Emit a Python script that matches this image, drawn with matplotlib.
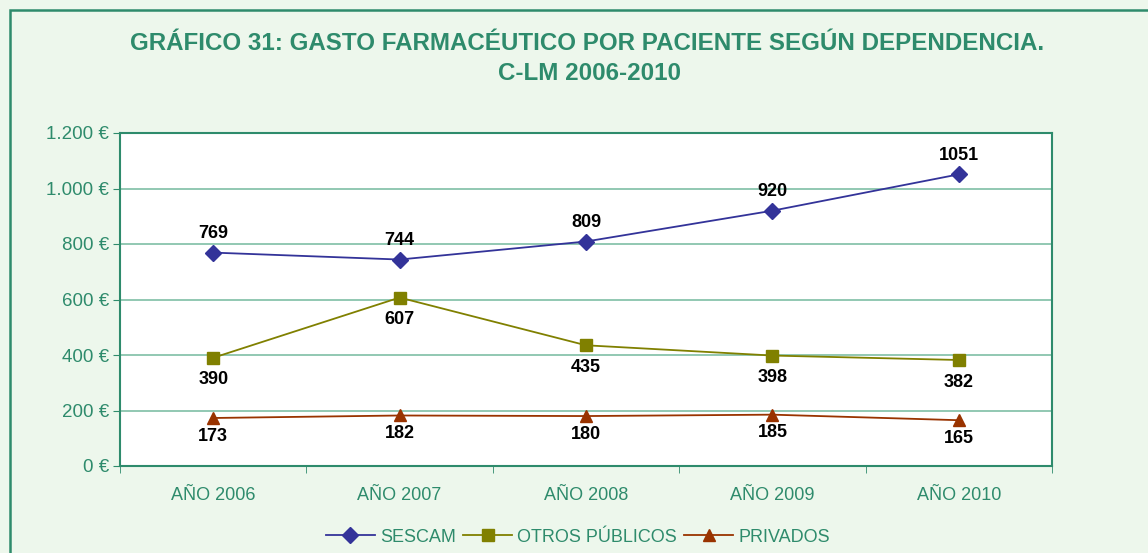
import matplotlib
matplotlib.use("Agg")
import matplotlib.pyplot as plt
from matplotlib.patches import Rectangle
from matplotlib.ticker import FuncFormatter, FixedLocator

categories = ["AÑO 2006", "AÑO 2007", "AÑO 2008", "AÑO 2009", "AÑO 2010"]
sescam = [769, 744, 809, 920, 1051]
otros_publicos = [390, 607, 435, 398, 382]
privados = [173, 182, 180, 185, 165]
series_names = ["SESCAM", "OTROS PÚBLICOS", "PRIVADOS"]
yticks = [0, 200, 400, 600, 800, 1000, 1200]

plt.rcParams['font.family'] = ['Liberation Sans', 'DejaVu Sans']

GREEN = "#2E8B6C"
GRID = "#7FBFA6"
BG = "#EDF7EC"

fig = plt.figure(figsize=(11.48, 5.53), dpi=100)
fig.patch.set_facecolor(BG)

# outer border
fig.patches.append(Rectangle((9.5/1148, -0.1), 1.2, (553-10)/553 + 0.1,
                             transform=fig.transFigure, fill=False,
                             edgecolor=GREEN, linewidth=1.8, zorder=0))

ax = fig.add_axes([120/1148, (553-466)/553, (1052-120)/1148, (466-133)/553])
ax.set_facecolor("white")
x = list(range(len(categories)))

ax.plot(x, sescam, color="#333399", marker="D", markersize=8, linewidth=1.3, label=series_names[0], zorder=3)
ax.plot(x, otros_publicos, color="#808000", marker="s", markersize=8, linewidth=1.3, label=series_names[1], zorder=3)
ax.plot(x, privados, color="#993300", marker="^", markersize=9, linewidth=1.3, label=series_names[2], zorder=3)

ax.set_xlim(-0.5, len(categories) - 0.5)
ax.set_ylim(0, 1200)
ax.yaxis.set_major_locator(FixedLocator(yticks))
ax.yaxis.set_major_formatter(FuncFormatter(lambda v, p: f"{int(v):,}".replace(",", ".") + " €"))
ax.set_xticks(x)
ax.set_xticklabels(categories)
ax.set_xticks([i - 0.5 for i in range(len(categories) + 1)], minor=True)
ax.tick_params(axis='x', which='major', length=0, pad=15, labelsize=13, labelcolor=GREEN)
ax.tick_params(axis='x', which='minor', length=5, color=GREEN, direction='out')
ax.tick_params(axis='y', which='major', length=5, color=GREEN, labelsize=13.5, labelcolor=GREEN, pad=3)

ax.grid(axis='y', color=GRID, linewidth=1.2, zorder=0)
ax.set_axisbelow(True)
for s in ax.spines.values():
    s.set_color(GREEN)
    s.set_linewidth(1.5)

lab_kw = dict(fontsize=13, fontweight='bold', color='black', ha='center', va='center')
for i in x:
    ax.annotate(str(sescam[i]), (i, sescam[i]), xytext=(0, 13.5), textcoords='offset points', **lab_kw)
    ax.annotate(str(otros_publicos[i]), (i, otros_publicos[i]), xytext=(0, -16), textcoords='offset points', **lab_kw)
    ax.annotate(str(privados[i]), (i, privados[i]), xytext=(0, -13), textcoords='offset points', **lab_kw)

fig.text(587/1148, 1 - 44/553, "GRÁFICO 31: GASTO FARMACÉUTICO POR PACIENTE SEGÚN DEPENDENCIA.",
         ha='center', va='center', fontsize=17.4, fontweight='bold', color=GREEN)
fig.text(590/1148, 1 - 74/553, "C-LM 2006-2010",
         ha='center', va='center', fontsize=17.4, fontweight='bold', color=GREEN)

leg = fig.legend(loc='center', bbox_to_anchor=(578/1148, 1 - 537/553), ncol=3, frameon=False,
                 fontsize=13, labelcolor=GREEN, handlelength=2.7, handletextpad=0.3,
                 columnspacing=0.4)

fig.savefig("out.png", dpi=100, facecolor=BG)
